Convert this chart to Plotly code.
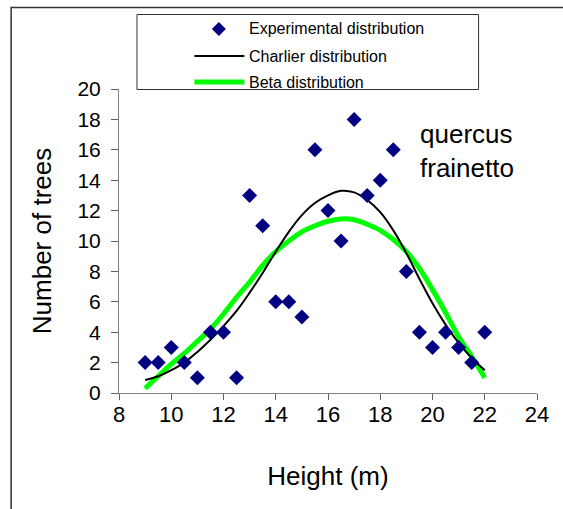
import plotly.graph_objects as go

# ---- data ----
height_exp = [9, 9.5, 10, 10.5, 11, 11.5, 12, 12.5, 13, 13.5, 14, 14.5, 15, 15.5,
              16, 16.5, 17, 17.5, 18, 18.5, 19, 19.5, 20, 20.5, 21, 21.5, 22]
trees_exp = [2, 2, 3, 2, 1, 4, 4, 1, 13, 11, 6, 6, 5, 16,
             12, 10, 18, 13, 14, 16, 8, 4, 3, 4, 3, 2, 4]

height_fit = [9, 9.5, 10, 10.5, 11, 11.5, 12, 12.5, 13, 13.5, 14, 14.5, 15, 15.5,
              16, 16.5, 17, 17.5, 18, 18.5, 19, 19.5, 20, 20.5, 21, 21.5, 22]
charlier = [0.85, 1.1, 1.5, 2.0, 2.7, 3.5, 4.4, 5.4, 6.6, 7.9, 9.3, 10.6, 11.7, 12.5,
            13.0, 13.3, 13.2, 12.7, 11.9, 10.7, 9.2, 7.5, 5.9, 4.5, 3.3, 2.3, 1.5]
beta = [0.3, 1.1, 1.9, 2.6, 3.4, 4.2, 5.2, 6.3, 7.3, 8.4, 9.3, 10.0, 10.6, 11.0,
        11.3, 11.45, 11.4, 11.1, 10.7, 10.1, 9.3, 8.2, 6.8, 5.3, 3.7, 2.4, 1.0]

x_ticks = [8, 10, 12, 14, 16, 18, 20, 22, 24]
y_ticks = [0, 2, 4, 6, 8, 10, 12, 14, 16, 18, 20]

legend_labels = ["Experimental distribution", "Charlier distribution", "Beta distribution"]
species_label = "quercus<br>frainetto"

# ---- layout geometry (pixels) ----
W, H = 563, 509
L, R, T, B = 118.5, 537, 89, 393
FONT = "Liberation Sans, Arial, sans-serif"


def px(x):
    return (x - L) / (R - L)


def py(y):
    return (B - y) / (B - T)


fig = go.Figure()
fig.add_trace(go.Scatter(x=height_fit, y=beta, mode="lines", line=dict(color="#00ff00", width=5, shape="spline", smoothing=1),
                         showlegend=False, hoverinfo="skip"))
fig.add_trace(go.Scatter(x=height_fit, y=charlier, mode="lines", line=dict(color="black", width=2, shape="spline", smoothing=1),
                         showlegend=False, hoverinfo="skip"))
fig.add_trace(go.Scatter(x=height_exp, y=trees_exp, mode="markers",
                         marker=dict(symbol="diamond", size=11.5, color="#000080", line=dict(width=0)),
                         showlegend=False))

shapes = []
# outer frame (partially cropped)
shapes.append(dict(type="rect", xref="paper", yref="paper", x0=px(10.5), x1=px(700), y0=py(7.5), y1=py(700),
                   line=dict(color="#333333", width=1.5)))
# legend box
shapes.append(dict(type="rect", xref="paper", yref="paper", x0=px(136.5), x1=px(478.5), y0=py(14.5), y1=py(89.5),
                   line=dict(color="#333333", width=1), fillcolor="white"))
# legend line symbols
shapes.append(dict(type="line", xref="paper", yref="paper", x0=px(194), x1=px(244), y0=py(56), y1=py(56),
                   line=dict(color="black", width=2)))
shapes.append(dict(type="line", xref="paper", yref="paper", x0=px(194), x1=px(244), y0=py(82), y1=py(82),
                   line=dict(color="#00ff00", width=5)))
# legend diamond
cx, cy, r = 218.5, 29, 7
shapes.append(dict(type="path", xref="paper", yref="paper",
                   path=f"M {px(cx)} {py(cy - r)} L {px(cx + r)} {py(cy)} L {px(cx)} {py(cy + r)} L {px(cx - r)} {py(cy)} Z",
                   fillcolor="#000080", line=dict(width=0)))

annotations = []
for lbl, yy in zip(legend_labels, [29, 56, 82]):
    annotations.append(dict(text=lbl, xref="paper", yref="paper", x=px(247), y=py(yy), xanchor="left", yanchor="middle",
                            showarrow=False, font=dict(family=FONT, size=16, color="black")))
annotations.append(dict(text=species_label, xref="paper", yref="paper", x=px(418), y=py(151), xanchor="left", yanchor="middle",
                        align="left", showarrow=False, font=dict(family=FONT, size=26, color="black")))

fig.update_layout(
    width=W, height=H,
    margin=dict(l=L, r=W - R, t=T, b=H - B, pad=0),
    paper_bgcolor="white", plot_bgcolor="white",
    font=dict(family=FONT, color="black"),
    shapes=shapes, annotations=annotations,
    showlegend=False,
)
fig.update_xaxes(range=[8, 24], tickvals=x_ticks, ticktext=[str(v) for v in x_ticks],
                 showgrid=False, zeroline=False, showline=True, linecolor="#808080", linewidth=1,
                 ticks="outside", ticklen=6, tickcolor="#606060", tickfont=dict(size=22, family=FONT),
                 ticklabelstandoff=-4,
                 title=dict(text="Height (m)", font=dict(size=26, family=FONT), standoff=40))
fig.update_yaxes(range=[0, 20], tickvals=y_ticks, ticktext=[str(v) for v in y_ticks],
                 showgrid=False, zeroline=False, showline=True, linecolor="#808080", linewidth=1,
                 ticks="outside", ticklen=7, tickcolor="#606060", tickfont=dict(size=21, family=FONT),
                 ticklabelstandoff=6,
                 title=dict(text="Number of trees", font=dict(size=26, family=FONT), standoff=18))

fig.write_html("out.html")
